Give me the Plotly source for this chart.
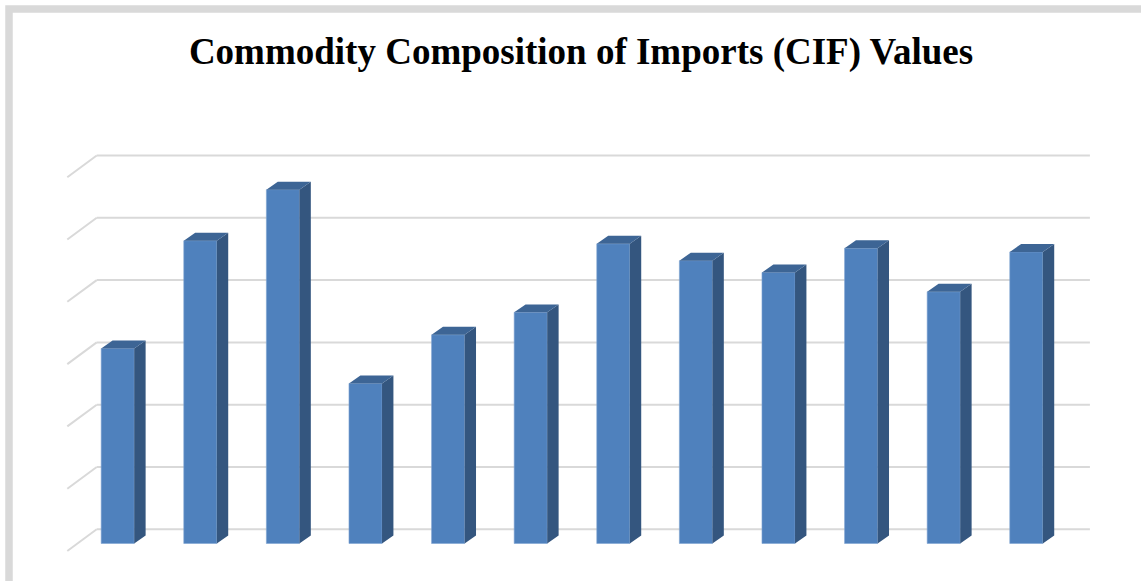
import plotly.graph_objects as go

# ---- data (values in gridline units) ----
categories = ["C1", "C2", "C3", "C4", "C5", "C6", "C7", "C8", "C9", "C10", "C11", "C12"]
values = [3.13, 4.86, 5.68, 2.57, 3.35, 3.71, 4.81, 4.54, 4.35, 4.74, 4.04, 4.68]
grid_levels = [0, 1, 2, 3, 4, 5, 6]
title_text = "Commodity Composition of Imports (CIF) Values"

# ---- styling / geometry constants ----
FRONT = "#4f81bd"
SIDE = "#34567f"
TOP = "#3d6595"
GRID = "#d9d9d9"
BAR_W = 0.40          # front face width (x units)
DX, DY = 0.138, 0.128  # depth offset of bar (x units, y units)
BACK_DY = 0.228        # back wall offset
BACK_X0, BACK_X1 = -0.254, 11.77
FRONT_X0, FRONT_DY = -0.61, -0.12

L, R, T, B = 50, 41, 120, 20
W, H = 1141, 581
PW, PH = W - L - R, H - T - B
XA = -(117.7 - L) / 82.6
XB = XA + PW / 82.6
Y0 = -((H - B) - 543.5) / 62.3
Y1 = (543.5 - T) / 62.3

xs = list(range(len(categories)))

fig = go.Figure()

# front faces
fig.add_trace(go.Bar(x=xs, y=values, width=BAR_W, marker=dict(color=FRONT, line=dict(width=0.6, color="#7ea3d2")),
                     hoverinfo="skip", showlegend=False))

# side and top faces
sx, sy = [], []
tx, ty = [], []
for x, v in zip(xs, values):
    r = x + BAR_W / 2
    l = x - BAR_W / 2
    sx += [r, r + DX, r + DX, r, r, None]
    sy += [0, DY, v + DY, v, 0, None]
    tx += [l, l + DX, r + DX, r, l, None]
    ty += [v, v + DY, v + DY, v, v, None]
fig.add_trace(go.Scatter(x=sx, y=sy, fill="toself", fillcolor=SIDE, mode="lines",
                         line=dict(width=0, color=SIDE), hoverinfo="skip", showlegend=False))
fig.add_trace(go.Scatter(x=tx, y=ty, fill="toself", fillcolor=TOP, mode="lines",
                         line=dict(width=0, color=TOP), hoverinfo="skip", showlegend=False))

# perspective gridlines (behind bars)
shapes = []
for k in grid_levels:
    shapes.append(dict(type="line", xref="x", yref="y", layer="below",
                       x0=FRONT_X0, y0=k + FRONT_DY, x1=BACK_X0, y1=k + BACK_DY,
                       line=dict(color=GRID, width=2)))
    shapes.append(dict(type="line", xref="x", yref="y", layer="below",
                       x0=BACK_X0, y0=k + BACK_DY, x1=BACK_X1, y1=k + BACK_DY,
                       line=dict(color=GRID, width=2)))

# outer frame (top and left edge visible)
shapes.append(dict(type="rect", xref="paper", yref="paper", layer="below",
                   x0=(9 - L) / PW, x1=(W + 30 - L) / PW,
                   y0=((H - B) - (H + 30)) / PH, y1=((H - B) - 9) / PH,
                   line=dict(color=GRID, width=7.5), fillcolor="rgba(0,0,0,0)"))

fig.update_layout(
    width=W, height=H,
    margin=dict(l=L, r=R, t=T, b=B),
    paper_bgcolor="white", plot_bgcolor="white",
    shapes=shapes,
    title=dict(text=title_text, x=(581 - L) / PW, xref="paper", xanchor="center",
               y=1 - 51 / H, yref="container", yanchor="middle",
               font=dict(family="Liberation Serif", size=37, color="black", weight="bold")),
    xaxis=dict(range=[XA, XB], visible=False, fixedrange=True),
    yaxis=dict(range=[Y0, Y1], visible=False, fixedrange=True),
    showlegend=False,
)

fig.write_html("out.html", config={"displayModeBar": False},
               post_script="document.body.style.margin='0';document.body.style.overflow='hidden';")
